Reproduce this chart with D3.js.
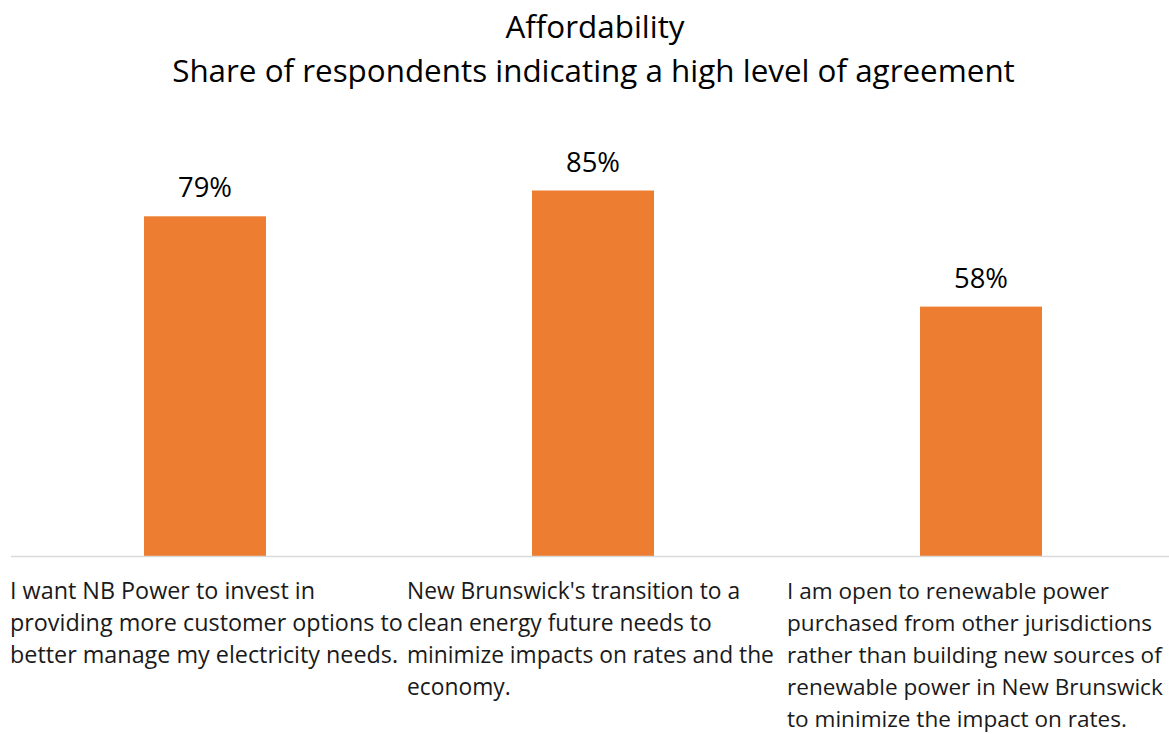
<!DOCTYPE html>
<html><head><meta charset="utf-8">
<script src="https://cdn.jsdelivr.net/npm/d3@7"></script>
<style>body{margin:0;background:#fff}svg{display:block}</style>
</head><body>
<svg id="c" width="1169" height="734"></svg>
<script>
const titleLines = ["Affordability", "Share of respondents indicating a high level of agreement"];
const categories = ["c1", "c2", "c3"];
const categoryLabels = [
  ["I want NB Power to invest in", "providing more customer options to", "better manage my electricity needs."],
  ["New Brunswick's transition to a", "clean energy future needs to", "minimize impacts on rates and the", "economy."],
  ["I am open to renewable power", "purchased from other jurisdictions", "rather than building new sources of", "renewable power in New Brunswick", "to minimize the impact on rates."]
];
const values = [0.79, 0.85, 0.58];
const valueLabels = ["79%", "85%", "58%"];

const FONT = "'Open Sans', 'Noto Sans', sans-serif";
const svg = d3.select("#c");
const W = 1169;
const x = d3.scaleBand().domain(categories).range([11, 1175]).paddingInner(0).paddingOuter(0);
const y = d3.scaleLinear().domain([0, 1]).range([556, 126]);
const barW = 122;
// measured widths of widest label line per column in reference (layout, not data)
const labelBlockW = [393, 367, 376];
const labelLeft = [10, 407, 787];

function fit(sel, targetW, base) {
  sel.style("font-size", base + "px");
  const w = sel.node().getComputedTextLength();
  return base * targetW / w;
}

// title
const t1 = svg.append("text").attr("x", 595).attr("y", 38).attr("text-anchor", "middle")
  .style("font-family", FONT).attr("fill", "#000").text(titleLines[0]);
const t2 = svg.append("text").attr("x", 593.5).attr("y", 82).attr("text-anchor", "middle")
  .style("font-family", FONT).attr("fill", "#000").text(titleLines[1]);
const ts = fit(t2, 843, 30);
t1.style("font-size", ts + "px");
t2.style("font-size", ts + "px");

// bars
svg.append("g").selectAll("rect").data(values).join("rect")
  .attr("x", (d, i) => x(categories[i]) + x.bandwidth() / 2 - barW / 2)
  .attr("width", barW)
  .attr("y", d => y(d))
  .attr("height", d => y(0) - y(d))
  .attr("fill", "#ED7D31");

// axis line
svg.append("line").attr("x1", 11).attr("x2", W).attr("y1", 556.5).attr("y2", 556.5)
  .attr("stroke", "#D9D9D9").attr("stroke-width", 1.5);

// value labels
const vl = svg.append("g").selectAll("text").data(values).join("text")
  .attr("x", (d, i) => x(categories[i]) + x.bandwidth() / 2)
  .attr("y", d => y(d) - 19)
  .attr("text-anchor", "middle")
  .style("font-family", FONT).attr("fill", "#000")
  .text((d, i) => valueLabels[i]);
const vs = fit(d3.select(vl.nodes()[0]), 54, 22);
vl.style("font-size", vs + "px");

// category labels
categoryLabels.forEach((lines, i) => {
  const g = svg.append("text").style("font-family", FONT).style("font-size", "20px").attr("fill", "#1a1a1a");
  const spans = lines.map((l, j) => g.append("tspan").attr("y", 599 + j * 32).text(l));
  const maxW = d3.max(spans, s => s.node().getComputedTextLength());
  g.style("font-size", (20 * labelBlockW[i] / maxW) + "px");
  spans.forEach(s => s.attr("x", labelLeft[i]));
});
</script>
</body></html>
